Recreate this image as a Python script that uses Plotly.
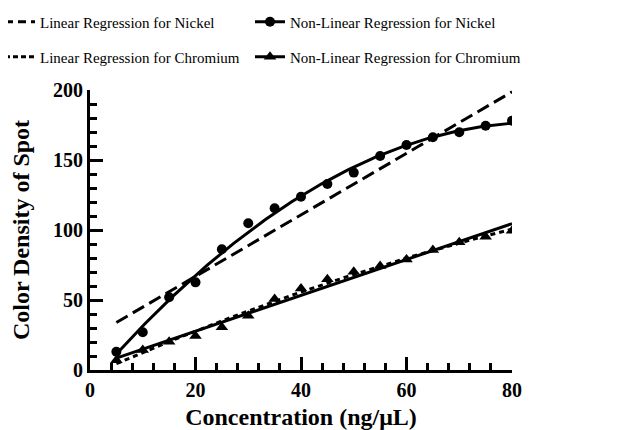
import numpy as np
import plotly.graph_objects as go

# ---- data ----
conc = [5, 10, 15, 20, 25, 30, 35, 40, 45, 50, 55, 60, 65, 70, 75, 80]
nickel = [13.0, 27.0, 52.0, 62.6, 86.2, 104.8, 115.5, 123.8, 132.9, 141.0,
          152.9, 160.7, 166.2, 169.8, 174.5, 178.0]
chromium = [7.0, 14.3, 20.2, 24.3, 30.5, 38.8, 50.7, 58.3, 64.8, 70.2,
            74.3, 79.0, 85.7, 91.2, 95.2, 99.5]

x_ticks = [0, 20, 40, 60, 80]
y_ticks = [0, 50, 100, 150, 200]

FONT = "Liberation Serif"

# regression curves computed from the data
xs = np.linspace(min(conc), max(conc), 200)
ni_lin = np.polyval(np.polyfit(conc, nickel, 1), xs)
ni_quad = np.polyval(np.polyfit(conc, nickel, 2), xs)
cr_lin = np.polyval(np.polyfit(conc, chromium, 1), xs)
cr_quad = np.polyval(np.polyfit(conc, chromium, 2), xs)

fig = go.Figure()

LW = 3
# Nickel
fig.add_trace(go.Scatter(x=xs, y=ni_lin, mode="lines",
                         line=dict(color="black", width=LW, dash="13px,6px"),
                         showlegend=False, hoverinfo="skip"))
fig.add_trace(go.Scatter(x=xs, y=ni_quad, mode="lines",
                         line=dict(color="black", width=LW),
                         showlegend=False, hoverinfo="skip"))
fig.add_trace(go.Scatter(x=conc, y=nickel, mode="markers",
                         marker=dict(symbol="circle", size=10, color="black"),
                         showlegend=False))
# Chromium (as drawn in the reference: solid straight line, dotted curve)
fig.add_trace(go.Scatter(x=xs, y=cr_quad, mode="lines",
                         line=dict(color="black", width=LW, dash="5px,4px"),
                         showlegend=False, hoverinfo="skip"))
fig.add_trace(go.Scatter(x=xs, y=cr_lin, mode="lines",
                         line=dict(color="black", width=LW),
                         showlegend=False, hoverinfo="skip"))
fig.add_trace(go.Scatter(x=conc, y=chromium, mode="markers",
                         marker=dict(symbol="triangle-up", size=11, color="black"),
                         showlegend=False))

# legend-only entries, one legend box each
fig.add_trace(go.Scatter(x=[None], y=[None], mode="lines", name="Linear Regression for Nickel",
                         line=dict(color="black", width=LW, dash="8px,5px"), legend="legend"))
fig.add_trace(go.Scatter(x=[None], y=[None], mode="lines+markers", name="Non-Linear Regression for Nickel",
                         line=dict(color="black", width=LW),
                         marker=dict(symbol="circle", size=10, color="black"), legend="legend2"))
fig.add_trace(go.Scatter(x=[None], y=[None], mode="lines", name="Linear Regression for Chromium",
                         line=dict(color="black", width=LW, dash="5px,3px"), legend="legend3"))
fig.add_trace(go.Scatter(x=[None], y=[None], mode="lines+markers", name="Non-Linear Regression for Chromium",
                         line=dict(color="black", width=LW),
                         marker=dict(symbol="triangle-up", size=11, color="black"), legend="legend4"))

# page body has an 8px default margin, so the figure is 8px smaller
W, H = 621, 422
L, R, T, B = 82, 117, 82, 60
PW, PH = W - L - R, H - T - B

legend_common = dict(orientation="h", xanchor="left", yanchor="middle",
                     font=dict(family=FONT, size=15, color="black"),
                     bgcolor="rgba(0,0,0,0)", itemclick=False)
col1, col2 = (-8 - L) / PW, (242 - L) / PW
row1, row2 = 1 + (T - 14) / PH, 1 + (T - 49) / PH

fig.update_layout(
    width=W, height=H,
    margin=dict(l=L, r=R, t=T, b=B, autoexpand=False),
    paper_bgcolor="white", plot_bgcolor="white",
    font=dict(family=FONT, color="black"),
    legend=dict(x=col1, y=row1, **legend_common),
    legend2=dict(x=col2, y=row1, **legend_common),
    legend3=dict(x=col1, y=row2, **legend_common),
    legend4=dict(x=col2, y=row2, **legend_common),
)

axis_common = dict(showgrid=False, zeroline=False, showline=True, linecolor="black",
                   linewidth=3, ticks="inside", tickwidth=3, tickcolor="black",
                   tickfont=dict(family=FONT, size=20, color="black", weight="bold"))

fig.update_xaxes(range=[0, 80], tickvals=x_ticks, ticklen=13,
                 minor=dict(dtick=4, tick0=0, ticks="inside", ticklen=7, tickwidth=3, tickcolor="black"),
                 title=dict(text="Concentration (ng/μL)", standoff=12,
                            font=dict(family=FONT, size=24, color="black", weight="bold")),
                 **axis_common)
fig.update_yaxes(range=[0, 200], tickvals=y_ticks, ticklen=13,
                 minor=dict(dtick=10, tick0=0, ticks="inside", ticklen=7, tickwidth=3, tickcolor="black"),
                 title=dict(text="Color Density of Spot", standoff=19,
                            font=dict(family=FONT, size=24, color="black", weight="bold")),
                 **axis_common)

fig.write_html("out.html")
